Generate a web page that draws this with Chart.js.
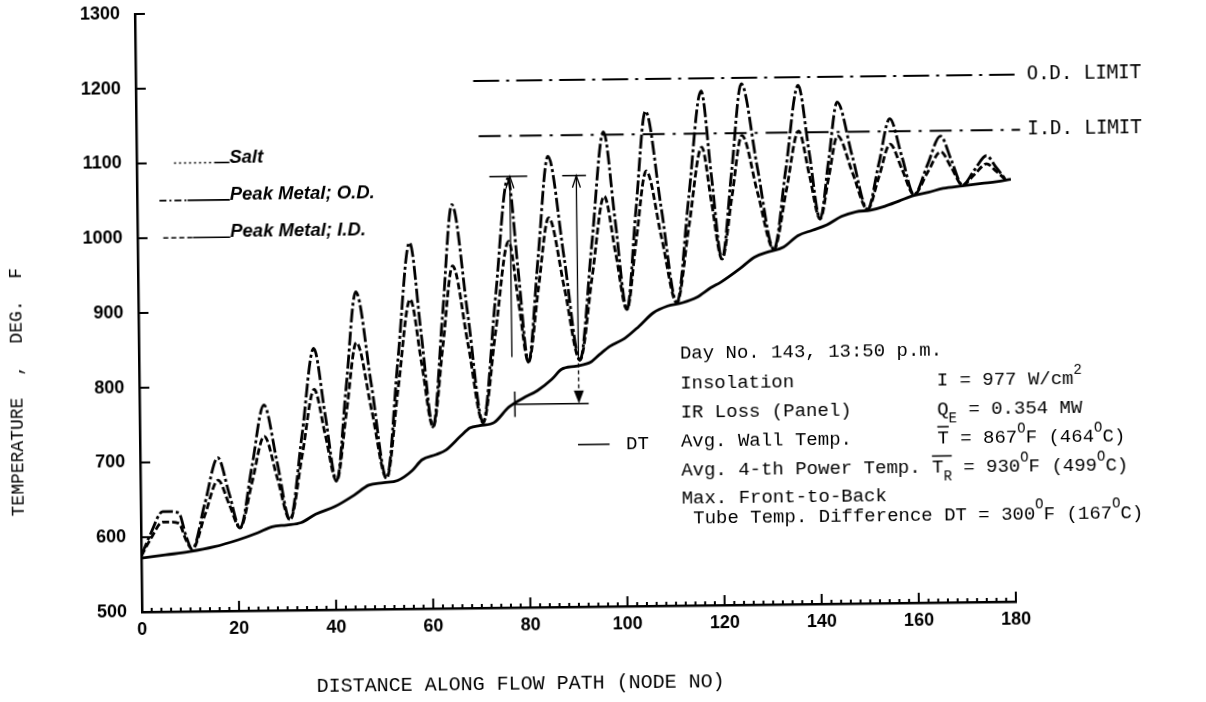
<!DOCTYPE html>
<html>
<head>
<meta charset="utf-8">
<title>Temperature along flow path</title>
<script src="https://cdn.jsdelivr.net/npm/chart.js"></script>
<style>
    html, body { margin: 0; padding: 0; background: #fff; }
    /* the original scan is tilted a little */
    #myChart { display: block; transform: rotate(-0.68deg); transform-origin: 142px 612px; }
</style>
</head>
<body>
<canvas id="myChart" width="1206" height="702"></canvas>
<script>
// metal temperatures (node no -> deg F)
const metalNode = [0, 2, 4.5, 6, 7.8, 9.3, 10.5, 13.2, 16, 18.2, 20.4, 23, 25.6, 28.2, 30.7,
    33.4, 36, 38.2, 40.4, 42.6, 44.8, 47.8, 50.7, 53.3, 56, 58.2, 60.4, 62.6, 64.8, 67.8, 70.7,
    73.5, 76.4, 78.3, 80.2, 82.4, 84.7, 87.8, 90.8, 93.5, 96.2, 98.4, 100.6, 102.7, 104.9, 107.9, 110.9,
    113.6, 116.4, 118.3, 120.3, 122.5, 124.7, 127.8, 131, 133.7, 136.4, 138.5, 140.6, 142.5, 144.4, 147.4, 150.4,
    152.8, 155.2, 157.6, 160, 162.8, 165.6, 167.8, 170, 172.5, 175, 177, 179];
const peakMetalOD = [575, 605, 634, 634, 632, 600, 583, 644, 705, 658, 611, 693, 775, 698, 621,
    735, 850, 761, 672, 798, 925, 800, 675, 832, 990, 866, 743, 891, 1040, 894, 748,
    911, 1074, 951, 828, 966, 1103, 967, 830, 983, 1135, 1016, 897, 1030, 1162, 1033, 905,
    1046, 1188, 1076, 963, 1080, 1197, 1085, 975, 1084, 1194, 1105, 1015, 1093, 1171, 1098, 1027,
    1087, 1148, 1097, 1046, 1085, 1124, 1091, 1058, 1078, 1097, 1081, 1064];
const peakMetalID = [575, 598, 620, 620, 618, 595, 583, 629, 675, 643, 611, 672, 733, 677, 621,
    708, 795, 733, 672, 764, 857, 766, 675, 795, 914, 828, 743, 850, 958, 853, 748,
    869, 990, 909, 828, 925, 1021, 926, 830, 940, 1049, 973, 897, 990, 1082, 993, 905,
    1008, 1113, 1038, 963, 1046, 1128, 1051, 975, 1053, 1133, 1074, 1015, 1071, 1126, 1076, 1027,
    1070, 1114, 1080, 1046, 1075, 1103, 1081, 1058, 1072, 1086, 1076, 1064];

// salt temperature
const saltNode = [0, 5, 10, 15, 20, 24, 27, 30, 33, 36, 40, 44, 47, 50, 53, 56, 58, 61, 63, 66,
    68, 70, 73, 76, 79, 82, 85, 87, 90, 93, 95, 97, 100, 103, 106, 109, 112, 115, 118, 120,
    124, 127, 130, 133, 136, 139, 142, 145, 148, 151, 154, 157, 160, 163, 166, 170, 174, 177, 180];
const saltTemp = [572, 576, 580, 586, 595, 604, 612, 614, 617, 628, 638, 653, 666, 669, 672, 685, 699, 706, 712, 730,
    741, 744, 748, 768, 780, 790, 805, 818, 822, 827, 838, 848, 858, 874, 892, 901, 905, 912, 925, 932,
    950, 965, 972, 978, 993, 1000, 1007, 1018, 1024, 1026, 1031, 1038, 1045, 1049, 1054, 1057, 1060, 1062, 1065];

// design limits
const limitNames = ["O.D. LIMIT", "I.D. LIMIT"];
const limitTemp = [1205, 1131];
const limitFrom = [69.5, 70.5];
const limitTo = [181, 182];

// DT marker (about 300 F)
const dtTop = 1077;
const dtBottom = 772;

const xTicks = [0, 20, 40, 60, 80, 100, 120, 140, 160, 180];
const yTicks = [500, 600, 700, 800, 900, 1000, 1100, 1200, 1300];

const mono = "'Liberation Mono', monospace";

function toPoints(xs, ys) {
    return xs.map(function(x, i) { return { x: x, y: ys[i] }; });
}

function seg(ctx, x1, y1, x2, y2, dash, w) {
    ctx.save();
    ctx.lineWidth = w || 2;
    ctx.setLineDash(dash || []);
    ctx.beginPath();
    ctx.moveTo(x1, y1);
    ctx.lineTo(x2, y2);
    ctx.stroke();
    ctx.restore();
}

// text with sub/superscripts and overbars
function richText(ctx, x, y, parts) {
    let barStart = null;
    parts.forEach(function(p) {
        let t = p[0], kind = p[1] || "";
        let size = 19, dy = 0;
        if (kind.indexOf("sup") >= 0) { size = 14; dy = -9; }
        if (kind.indexOf("sub") >= 0) { size = 14; dy = 9; }
        ctx.font = size + "px " + mono;
        ctx.fillText(t, x, y + dy);
        let w = ctx.measureText(t).width;
        if (kind.indexOf("bar") >= 0) {
            if (barStart === null) barStart = x;
        } else if (barStart !== null) {
            seg(ctx, barStart, y - 12, x, y - 12, [], 1.5);
            barStart = null;
        }
        x += w;
    });
}

const notes = [
    { y: 837, text: "Day No. 143, 13:50 p.m." },
    { y: 797, text: "Insolation", col: 22.5, parts: [["I = 977 W/cm"], ["2", "sup"]] },
    { y: 758, text: "IR Loss (Panel)", col: 22.5, parts: [["Q"], ["E", "sub"], [" = 0.354 MW"]] },
    { y: 719, text: "Avg. Wall Temp.", col: 22.5, parts: [["T", "bar"], [" = 867"], ["O", "sup"], ["F (464"], ["O", "sup"], ["C)"]] },
    { y: 680, text: "Avg. 4-th Power Temp.", col: 22, parts: [["T", "bar"], ["R", "subbar"], [" = 930"], ["O", "sup"], ["F (499"], ["O", "sup"], ["C)"]] },
    { y: 643, text: "Max. Front-to-Back" },
    { y: 617, text: " Tube Temp. Difference", col: 23, parts: [["DT = 300"], ["O", "sup"], ["F (167"], ["O", "sup"], ["C)"]] }
];

const legendRows = [
    { label: "Salt", y: 1100, from: 7.7, mid: 16, dash: [2, 3] },
    { label: "Peak Metal; O.D.", y: 1050, from: 4.6, mid: 10.4, dash: [7, 3, 2, 3] },
    { label: "Peak Metal; I.D.", y: 1000, from: 5.3, mid: 11.4, dash: [5, 3] }
];

const decorations = {
    id: "decorations",
    afterDraw: function(chart) {
        let ctx = chart.ctx;
        let xs = chart.scales.x, ys = chart.scales.y;
        let area = chart.chartArea;
        let px = function(v) { return xs.getPixelForValue(v); };
        let py = function(v) { return ys.getPixelForValue(v); };
        ctx.save();
        ctx.strokeStyle = "#000";
        ctx.fillStyle = "#000";

        // inside tick marks
        for (let v = 0; v <= 180; v += 2) {
            let len = v % 20 === 0 ? 10 : 4;
            seg(ctx, px(v), area.bottom, px(v), area.bottom - len, [], 2);
        }
        yTicks.forEach(function(v) {
            seg(ctx, area.left, py(v), area.left + 10, py(v), [], 2);
        });

        // legend written on the plot
        legendRows.forEach(function(r) {
            seg(ctx, px(r.from), py(r.y), px(r.mid), py(r.y), r.dash, 1.6);
            seg(ctx, px(r.mid), py(r.y), px(19.1), py(r.y), [], 1.6);
            ctx.font = "italic bold 18.5px 'Liberation Sans', sans-serif";
            ctx.textBaseline = "alphabetic";
            ctx.textAlign = "left";
            ctx.fillText(r.label, px(19.1), py(r.y));
        });

        // limit labels
        ctx.font = "19px 'DejaVu Sans Mono', monospace";
        ctx.textBaseline = "middle";
        limitNames.forEach(function(name, i) {
            ctx.fillText(name, px(183.5), py(limitTemp[i]));
        });

        // DT marker
        seg(ctx, px(72.6), py(dtTop), px(80.4), py(dtTop), [], 1.5);
        seg(ctx, px(87.6), py(dtTop), px(92.5), py(dtTop), [], 1.5);
        seg(ctx, px(77.3), py(dtBottom), px(92.5), py(dtBottom), [], 1.5);
        seg(ctx, px(76.8), py(dtTop), px(76.8), py(835), [], 1.3);
        seg(ctx, px(77.3), py(dtBottom + 17), px(77.3), py(dtBottom - 17), [], 1.5);
        seg(ctx, px(90.5), py(dtTop), px(90.5), py(835), [], 1.3);
        seg(ctx, px(90.5), py(835), px(90.5), py(dtBottom + 12), [4, 3], 1.3);
        [76.8, 90.5].forEach(function(x) {
            ctx.beginPath();
            ctx.moveTo(px(x) - 4, py(dtTop) + 12);
            ctx.lineTo(px(x), py(dtTop));
            ctx.lineTo(px(x) + 4, py(dtTop) + 12);
            ctx.lineWidth = 1.3;
            ctx.stroke();
        });
        ctx.beginPath();
        ctx.moveTo(px(90.5) - 5, py(dtBottom) - 13);
        ctx.lineTo(px(90.5) + 5, py(dtBottom) - 13);
        ctx.lineTo(px(90.5), py(dtBottom));
        ctx.closePath();
        ctx.fill();
        seg(ctx, px(90.2), py(717), px(96.7), py(717), [], 1.5);
        ctx.font = "19px " + mono;
        ctx.fillText("DT", px(100.1), py(717));

        // text block
        let left = px(111.4);
        ctx.font = "19px " + mono;
        let pitch = ctx.measureText("M").width;
        notes.forEach(function(n) {
            ctx.font = "19px " + mono;
            ctx.fillText(n.text, left, py(n.y));
            if (n.parts) richText(ctx, left + n.col * pitch, py(n.y), n.parts);
        });

        // axis titles
        ctx.font = "20px " + mono;
        ctx.textAlign = "center";
        ctx.fillText("DISTANCE ALONG FLOW PATH (NODE NO)", px(77.8), area.bottom + 77);
        ctx.save();
        ctx.translate(area.left - 122, py(796));
        ctx.rotate(-Math.PI / 2);
        ctx.font = "18px " + mono;
        ctx.fillText("TEMPERATURE  ,  DEG.  F", 0, 0);
        ctx.restore();

        ctx.restore();
    }
};

let datasets = [
    {
        label: "Salt",
        data: toPoints(saltNode, saltTemp),
        borderColor: "#000",
        borderWidth: 2.8
    },
    {
        label: "Peak Metal; O.D.",
        data: toPoints(metalNode, peakMetalOD),
        borderColor: "#000",
        borderWidth: 2.8,
        borderDash: [14, 3, 3, 3]
    },
    {
        label: "Peak Metal; I.D.",
        data: toPoints(metalNode, peakMetalID),
        borderColor: "#000",
        borderWidth: 2.8,
        borderDash: [7, 3]
    }
];
limitNames.forEach(function(name, i) {
    datasets.push({
        label: name,
        data: [{ x: limitFrom[i], y: limitTemp[i] }, { x: limitTo[i], y: limitTemp[i] }],
        borderColor: "#000",
        borderWidth: 2,
        borderDash: i === 0 ? [26, 7, 3, 7] : [22, 8, 3, 8],
        clip: false
    });
});

let tickFont = { family: "'Liberation Sans', sans-serif", weight: "bold", size: 18 };

new Chart(document.getElementById("myChart"), {
    type: "line",
    data: { datasets: datasets },
    options: {
        responsive: false,
        animation: false,
        devicePixelRatio: 1,
        layout: { padding: { left: 0, top: 14, right: 190, bottom: 0 } },
        elements: {
            point: { radius: 0 },
            line: { cubicInterpolationMode: "monotone", fill: false }
        },
        plugins: { legend: { display: false }, tooltip: { enabled: false } },
        scales: {
            x: {
                type: "linear",
                min: 0,
                max: 180,
                afterBuildTicks: function(s) { s.ticks = xTicks.map(function(v) { return { value: v }; }); },
                afterFit: function(s) { s.height = 90; },
                ticks: { color: "#000", font: tickFont, padding: 0, maxRotation: 0, callback: function(v) { return String(v); } },
                // tick marks are drawn inside by the plugin; tickLength only spaces the labels
                grid: { display: false, drawTicks: true, tickLength: 7 },
                border: { display: true, color: "#000", width: 2.5 }
            },
            y: {
                min: 500,
                max: 1300,
                afterBuildTicks: function(s) { s.ticks = yTicks.map(function(v) { return { value: v }; }); },
                afterFit: function(s) { s.width = 142; },
                ticks: { color: "#000", font: tickFont, padding: 0, callback: function(v) { return String(v); } },
                grid: { display: false, drawTicks: true, tickLength: 15 },
                border: { display: true, color: "#000", width: 2.5 }
            }
        }
    },
    plugins: [decorations]
});
</script>
</body>
</html>
